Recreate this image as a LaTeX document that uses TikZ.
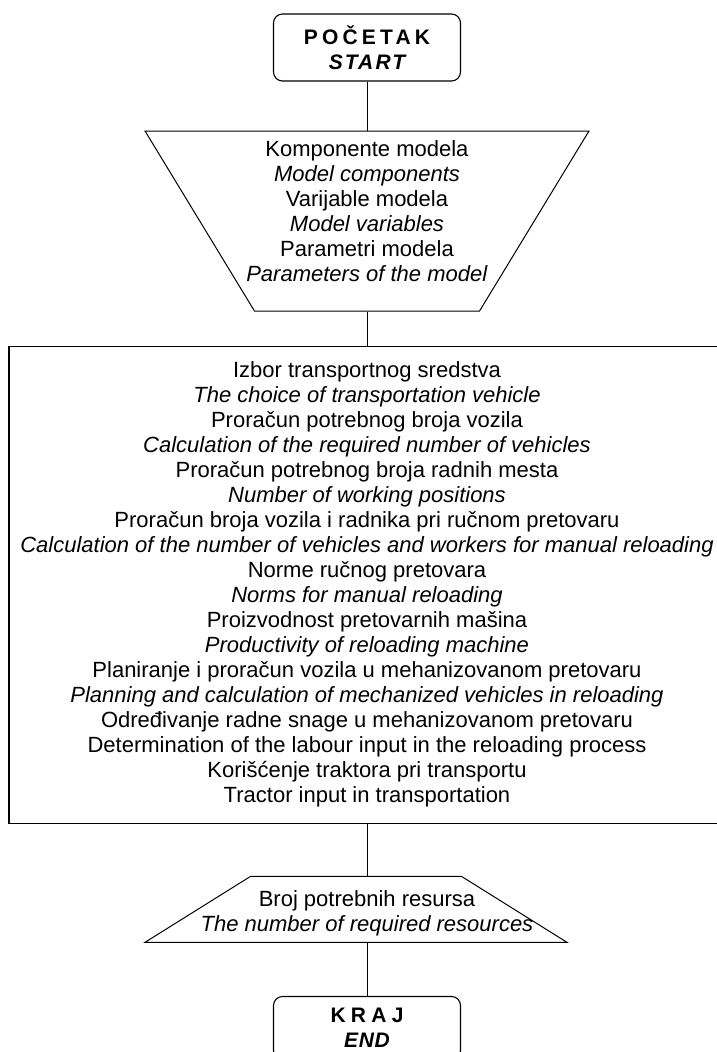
\documentclass[tikz,border=0pt]{standalone}
\usepackage{fontspec}
\setmainfont{Liberation Sans}
\usetikzlibrary{shapes.geometric,positioning}
\tikzstyle{endpoint}=[draw, line width=1.1pt, rounded corners=9pt, minimum width=187pt, minimum height=67pt, align=center, font=\bfseries\fontsize{21}{25}\selectfont]
\tikzstyle{trap}=[draw, trapezium, line width=1pt]
\tikzstyle{block}=[draw, line width=1.3pt, minimum width=716pt, minimum height=477pt]
\tikzstyle{txt}=[align=center, font=\fontsize{22}{25}\selectfont]
\tikzstyle{line}=[line width=1pt]

\begin{document}
\begin{tikzpicture}[x=1pt,y=-1pt]
\useasboundingbox (0,0) rectangle (716,1052);

\node (start) [endpoint] at (367,47.5) {{\addfontfeature{LetterSpace=20}POČETAK}\\{\itshape\addfontfeature{LetterSpace=10}START}};

% inverted trapezium: bottom side 225, top side 444, height 180
\node (input) [trap, below=49pt of start, trapezium left angle=121.3, trapezium right angle=121.3, inner xsep=112.5pt, inner ysep=90pt,
  label={[txt,yshift=10pt]center:{Komponente modela\\\textit{Model components}\\Varijable modela\\\textit{Model variables}\\Parametri modela\\\textit{Parameters of the model}}}] {};

\node (calc) [block, txt, below=34pt of input] {Izbor transportnog sredstva\\
\textit{The choice of transportation vehicle}\\
Proračun potrebnog broja vozila\\
\textit{Calculation of the required number of vehicles}\\
Proračun potrebnog broja radnih mesta\\
\textit{Number of working positions}\\
Proračun broja vozila i radnika pri ručnom pretovaru\\
\textit{Calculation of the number of vehicles and workers for manual reloading}\\
Norme ručnog pretovara\\
\textit{Norms for manual reloading}\\
Proizvodnost pretovarnih mašina\\
\textit{Productivity of reloading machine}\\
Planiranje i proračun vozila u mehanizovanom pretovaru\\
\textit{Planning and calculation of mechanized vehicles in reloading}\\
Određivanje radne snage u mehanizovanom pretovaru\\
Determination of the labour input in the reloading process\\
Korišćenje traktora pri transportu\\
Tractor input in transportation};

% top side 211, bottom side 422, height 66
\node (output) [trap, below=52pt of calc, xshift=-11pt, trapezium left angle=32, trapezium right angle=32, inner xsep=105.5pt, inner ysep=33pt,
  label={[txt,xshift=11pt,yshift=-4pt]center:{Broj potrebnih resursa\\\textit{The number of required resources}}}] {};

\node (kraj) [endpoint, minimum height=63pt, below=53pt of output, xshift=11pt] {{\addfontfeature{LetterSpace=25}KRAJ}\\{\itshape\addfontfeature{LetterSpace=3}END}};

\draw[line] (start) -- (input);
\draw[line] (input) -- (calc);
\draw[line] (calc) -- (calc|-output.north);
\draw[line] (kraj|-output.south) -- (kraj);
\end{tikzpicture}
\end{document}
